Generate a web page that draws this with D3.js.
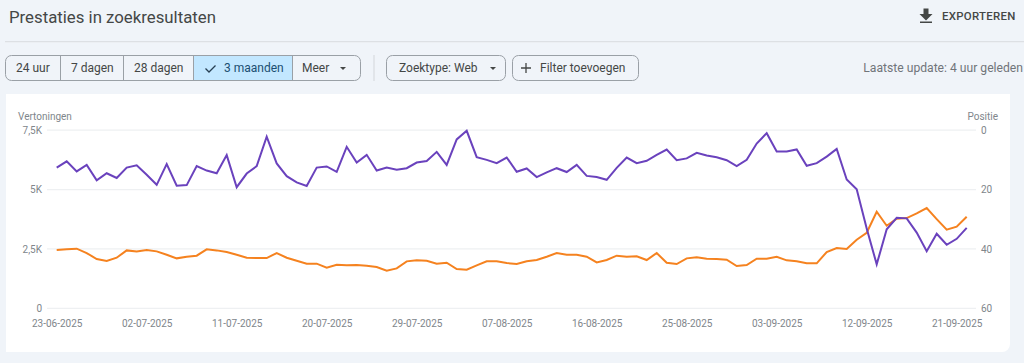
<!DOCTYPE html>
<html>
<head>
<meta charset="utf-8">
<script src="https://cdnjs.cloudflare.com/ajax/libs/d3/7.8.5/d3.min.js"></script>
<style>
	html, body {margin:0; padding:0; background:#f0f4f9;}
	svg {display:block; font-family:Roboto, sans-serif;}
	.axisText {font-size:10px; fill:#80868b;}
	.btn {font-size:12px; fill:#444746;}
</style>
</head>
<body>
<svg id="chart" width="1024" height="363"></svg>
<script>
//position in search results, right axis (reversed)
var positie = [
	12.6,10.5,13.9,11.7,16.9,14.5,16.1,12.6,11.8,15.0,18.4,11.4,18.7,18.5,12.1,13.6,14.5,8.4,19.2,14.6,12.1,
	2.2,11.2,15.5,17.6,18.8,12.6,12.2,14.0,5.6,10.9,8.3,13.6,12.6,13.3,12.8,10.9,10.4,7.3,11.7,3.1,0.2,9.1,10.0,11.1,9.2,
	14.0,12.9,15.8,14.2,12.8,14.1,11.7,15.4,15.8,16.7,12.7,9.2,11.1,10.3,8.3,6.5,10.1,9.5,7.6,8.5,9.1,10.1,12.1,10.0,4.5,
	1.0,7.2,7.2,6.5,12.0,11.1,8.9,6.3,16.6,19.9,33.1,45.2,33.4,29.5,29.7,34.5,40.8,34.9,38.6,36.6,32.9
];

//impressions, left axis
var vertoningen = [
	2454,2482,2510,2327,2075,1991,2131,2439,2397,2454,2397,2257,2103,2173,2215,2482,2439,2369,2257,2131,2117,
	2117,2327,2131,2005,1879,1879,1710,1837,1809,1823,1795,1738,1584,1682,1977,2019,2005,1879,1921,1654,1626,1809,1977,1977,1907,
	1865,1977,2033,2173,2327,2257,2257,2173,1935,2033,2215,2173,2187,2033,2327,1921,1865,2103,2145,2089,2075,2047,1781,1823,2089,
	2089,2173,2019,1977,1893,1893,2369,2538,2496,2888,3183,4066,3477,3771,3799,3996,4220,3757,3309,3435,3856
];

var startDate = new Date(2025, 5, 23);
var dateTicks = ['23-06-2025','02-07-2025','11-07-2025','20-07-2025','29-07-2025','07-08-2025','16-08-2025','25-08-2025','03-09-2025','12-09-2025','21-09-2025'];
var leftTicks = [0, 2500, 5000, 7500];
var leftLabels = ['0', '2,5K', '5K', '7,5K'];
var rightTicks = [0, 20, 40, 60];
var rangeLabels = ['24 uur', '7 dagen', '28 dagen', '3 maanden', 'Meer'];
var rangeEdges = [5.5, 60.5, 123.5, 193.5, 292.5, 360.5];

var svg = d3.select('#chart');
var parseDate = d3.timeParse('%d-%m-%Y');
var dates = positie.map(function(d, i){return d3.timeDay.offset(startDate, i);});

var x = d3.scaleTime()
	.domain([startDate, dates[dates.length-1]])
	.range([56.7, 966.7]);
var yLeft = d3.scaleLinear().domain([0, 7500]).range([308.3, 130.2]);
var yRight = d3.scaleLinear().domain([0, 60]).range([130.2, 308.3]);

function drawHeader(){
	svg.append('text')
		.attr('x', 9).attr('y', 23)
		.style('font-size', '16.8px').style('fill', '#444746')
		.text('Prestaties in zoekresultaten');

	svg.append('path')
		.attr('d', 'M919.5 14h4v-5.5h5v5.5h4l-6.5 6.5zM920 21.5h12v1.6h-12z')
		.attr('fill', '#444746');

	svg.append('text')
		.attr('x', 942).attr('y', 20)
		.style('font-size', '11.4px').style('font-weight', 500).style('fill', '#444746')
		.style('letter-spacing', '0.3px')
		.text('EXPORTEREN');

	svg.append('line')
		.attr('x1', 5).attr('x2', 1024).attr('y1', 41.7).attr('y2', 41.7)
		.attr('stroke', '#dde0e4').attr('stroke-width', 1.3);
}

function drawToolbar(){
	//the selected range goes first so the outline stays on top
	svg.append('rect')
		.attr('x', rangeEdges[3]).attr('y', 55.5)
		.attr('width', rangeEdges[4]-rangeEdges[3]).attr('height', 25)
		.attr('fill', '#c2e7ff');

	svg.append('rect')
		.attr('x', rangeEdges[0]).attr('y', 55.5)
		.attr('width', rangeEdges[5]-rangeEdges[0]).attr('height', 25)
		.attr('rx', 6)
		.attr('fill', 'none').attr('stroke', '#9aa0a6');

	svg.selectAll('.divider')
		.data(rangeEdges.slice(1, 5)).enter()
		.append('line')
			.attr('class', 'divider')
			.attr('x1', function(d){return d;}).attr('x2', function(d){return d;})
			.attr('y1', 55.5).attr('y2', 80.5)
			.attr('stroke', '#9aa0a6');

	var labelX = [16, 71, 134, 224, 302];
	svg.selectAll('.range')
		.data(rangeLabels).enter()
		.append('text')
			.attr('class', 'btn range')
			.attr('x', function(d, i){return labelX[i];})
			.attr('y', 72)
			.style('fill', function(d, i){return i == 3 ? '#1b4f72' : '#444746';})
			.text(function(d){return d;});

	//check mark
	svg.append('path')
		.attr('d', 'M205.5 68.5l3.5 3.5l6.5 -6.5')
		.attr('fill', 'none').attr('stroke', '#263f52').attr('stroke-width', 1.3);

	svg.append('line')
		.attr('x1', 374).attr('x2', 374).attr('y1', 55).attr('y2', 81)
		.attr('stroke', '#d3d6da');

	svg.selectAll('.outlined')
		.data([[386.5, 119], [512.5, 126]]).enter()
		.append('rect')
			.attr('class', 'outlined')
			.attr('x', function(d){return d[0];}).attr('y', 55.5)
			.attr('width', function(d){return d[1];}).attr('height', 25)
			.attr('rx', 6)
			.attr('fill', 'none').attr('stroke', '#9aa0a6');

	svg.append('text').attr('class', 'btn').attr('x', 399).attr('y', 72).text('Zoektype: Web');
	svg.append('text').attr('class', 'btn').attr('x', 540).attr('y', 72).text('Filter toevoegen');

	//small dropdown triangles
	svg.selectAll('.caret')
		.data([343, 493]).enter()
		.append('path')
			.attr('class', 'caret')
			.attr('d', function(d){return 'M'+(d-3)+' 67h6l-3 3z';})
			.attr('fill', '#444746');

	svg.append('path')
		.attr('d', 'M526 63v10M521 68h10')
		.attr('stroke', '#444746').attr('stroke-width', 1.3);

	svg.append('text')
		.attr('x', 1023).attr('y', 72)
		.attr('text-anchor', 'end')
		.style('font-size', '12.15px').style('fill', '#70757a')
		.text('Laatste update: 4 uur geleden');
}

function drawChart(){
	svg.append('path')
		.attr('d', 'M6 94H1010V344a8 8 0 0 1 -8 8H6z')
		.attr('fill', 'white');

	svg.selectAll('.grid')
		.data(leftTicks).enter()
		.append('line')
			.attr('class', 'grid')
			.attr('x1', 47).attr('x2', 976)
			.attr('y1', function(d){return yLeft(d);}).attr('y2', function(d){return yLeft(d);})
			.attr('stroke', '#eef0f2').attr('stroke-width', 1.2);

	svg.append('text').attr('class', 'axisText').attr('x', 18).attr('y', 120).text('Vertoningen');
	svg.append('text').attr('class', 'axisText').attr('x', 998).attr('y', 120).attr('text-anchor', 'end').text('Positie');

	var axisLeft = d3.axisLeft(yLeft)
		.tickValues(leftTicks)
		.tickFormat(function(d, i){return leftLabels[i];})
		.tickSize(0).tickPadding(0);
	var axisRight = d3.axisRight(yRight)
		.tickValues(rightTicks)
		.tickSize(0).tickPadding(0);
	var axisBottom = d3.axisBottom(x)
		.tickValues(dateTicks.map(function(d){return parseDate(d);}))
		.tickFormat(d3.timeFormat('%d-%m-%Y'))
		.tickSize(0).tickPadding(0);

	[svg.append('g').attr('transform', 'translate(42,0)').call(axisLeft),
	 svg.append('g').attr('transform', 'translate(981,0)').call(axisRight),
	 svg.append('g').attr('transform', 'translate(0,320)').call(axisBottom)].forEach(function(g){
		g.select('.domain').remove();
		g.selectAll('text').attr('class', 'axisText').style('font-family', 'Roboto, sans-serif');
	});

	var linePositie = d3.line()
		.x(function(d, i){return x(dates[i]);})
		.y(function(d){return yRight(d);});
	var lineVertoningen = d3.line()
		.x(function(d, i){return x(dates[i]);})
		.y(function(d){return yLeft(d);});

	svg.append('path')
		.attr('d', lineVertoningen(vertoningen))
		.attr('fill', 'none').attr('stroke', '#f5821f').attr('stroke-width', 2);
	svg.append('path')
		.attr('d', linePositie(positie))
		.attr('fill', 'none').attr('stroke', '#6a42bd').attr('stroke-width', 2);
}

function init(){
	drawHeader();
	drawToolbar();
	drawChart();
}

init();
</script>
</body>
</html>
